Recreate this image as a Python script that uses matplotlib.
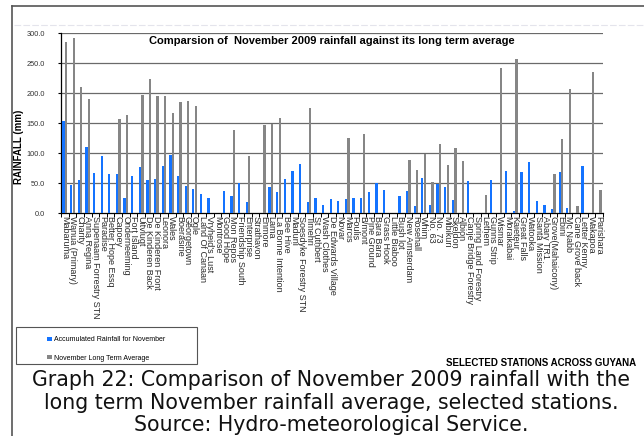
import numpy as np
import matplotlib.pyplot as plt
from matplotlib.lines import Line2D
from matplotlib.patches import Rectangle

# Stations (left to right)
stations = ["Mabaruma", "Wanua (Primary)", "Charity", "Anna Regina", "Supenaam Forrestry STN",
            "Paradise", "Better Hope Essq", "Capoey", "Onderneeming", "Fort Island", "Uitvlugt",
            "De Kinderen Back", "De Kinderen Front", "Leonora", "Wales", "Boerasirie", "Georgetown",
            "Ogle", "Land Of Canaan", "Vryheid's Lust", "Montrose", "Good Hope", "Mon Repos",
            "Friendship South", "Enterprise", "Strathavon", "Enmore", "Lama", "La Bonne Intention",
            "Bee Hive", "Maduni", "Soesdyke Forestry STN", "Timehri", "St Cuthbert", "Wash Clothes",
            "De Edwards Village", "Novar", "Marcis", "Foulis", "B/mont", "Pine Ground", "Bara Bara",
            "Grass Hook", "Little Biaboo", "Bush lot", "New Amsterdam", "Rosehall", "Whim", "No. 63",
            "No. 73", "Mibikuri", "Skeldon", "Albion", "Canje Bridge Forestry", "Spring Land Forestry",
            "Lethem", "Gunns Strip", "Wismar", "Moraikabai", "Kaieteur", "Great Falls", "Watooka",
            "Santa Mission", "Abary TR1", "Grove(Mahaicony)", "Ebini", "Mc Nabb", "Cane Grove back",
            "Letter Kenny", "Wakapoa", "Parishara"]

# Accumulated rainfall for November 2009 (mm)
nov_2009 = [153.6, 47.5, 55.3, 111.0, 67.0, 95.0, 64.8, 64.8, 25.7, 62.0, 76.5,
            55.3, 57.0, 79.3, 96.7, 61.0, 45.3, 40.8, 32.4, 25.1, 0.0, 36.3, 28.5,
            50.3, 18.4, 0.0, 0.0, 43.6, 35.8, 57.5, 69.8, 82.1, 19.0, 25.7, 14.0,
            22.9, 20.7, 22.9, 25.1, 25.7, 35.8, 50.3, 39.1, 0.0, 28.5, 36.3, 12.3,
            58.1, 12.9, 48.6, 43.0, 21.8, 0.0, 53.1, 0.0, 0.0, 54.8, 0.0, 70.4, 2.8,
            68.2, 85.0, 19.6, 14.0, 7.3, 68.2, 8.4, 0.0, 78.2, 0.0, 0.0]

# November long term average (mm)
nov_avg = [285.0, 292.8, 210.6, 190.0, 0.0, 0.0, 0.0, 157.5, 164.3, 0.0, 196.7,
           223.0, 195.0, 195.0, 167.0, 185.5, 187.0, 178.0, 0.0, 0.0, 0.0, 0.0, 139.0,
           0.0, 95.5, 0.0, 147.5, 149.0, 159.0, 0.0, 0.0, 0.0, 175.0, 0.0, 0.0,
           0.0, 0.0, 124.6, 0.0, 131.3, 0.0, 0.0, 0.0, 0.0, 0.0, 88.8, 71.0,
           97.8, 52.5, 114.5, 80.4, 107.8, 86.6, 0.0, 0.0, 30.7, 0.0, 243.0, 0.0, 258.0,
           0.0, 0.0, 0.0, 0.0, 64.8, 123.5, 206.7, 12.3, 0.0, 235.0, 38.5]

yticks = [0, 50, 100, 150, 200, 250, 300]

blue = '#1473ff'
grey = '#868686'

fig = plt.figure(figsize=(6.44, 4.36), dpi=100)
ax = fig.add_axes([61/644, 1 - 213/436, 542/644, 179.6/436])

x = np.arange(len(stations))
b1 = ax.bar(x - 0.17, nov_2009, width=0.3, color=blue, zorder=3,
            label='Accumulated Rainfall for November')
b2 = ax.bar(x + 0.16, nov_avg, width=0.3, color=grey, zorder=3,
            label='November Long Term Average')

ax.set_xlim(-0.5, len(stations) - 0.5)
ax.set_ylim(0, 300)
ax.set_yticks(yticks)
ax.set_yticklabels([f'{v:.1f}' for v in yticks], fontsize=5.3,
                   family='Liberation Sans', color='#333333')
ax.tick_params(axis='y', length=2.5, pad=9, width=0.8)
for v in yticks[1:]:
    ax.axhline(v, color='#6a6a6a', lw=0.9, zorder=1)

ax.set_xticks(x)
ax.set_xticklabels(stations, rotation=270, fontsize=6.5, family='Liberation Sans',
                   color='#2a2a2a', va='top', ha='center')
ax.tick_params(axis='x', length=0, pad=2)
ax.set_xticks(np.arange(len(stations) + 1) - 0.5, minor=True)
ax.tick_params(axis='x', which='minor', length=3, width=0.7, direction='out')

for s in ['top', 'right']:
    ax.spines[s].set_visible(False)
ax.spines['left'].set_linewidth(0.9)
ax.spines['bottom'].set_linewidth(0.9)

ax.set_ylabel('RAINFALL (mm)', fontsize=7, fontweight='bold', family='Liberation Sans')
ax.yaxis.set_label_coords(-0.068, 0.37)

ax.text(0.5, 0.96, 'Comparsion of  November 2009 rainfall against its long term average',
        transform=ax.transAxes, ha='center', va='center', fontsize=8, fontweight='bold',
        family='Liberation Sans')

# legend
leg = fig.legend(handles=[b1, b2], loc='center left', bbox_to_anchor=(44/644, 1 - 349/436),
                 frameon=False, prop={'family': 'Liberation Sans', 'size': 5},
                 handlelength=0.6, handleheight=0.6, handletextpad=0.4, labelspacing=1.6,
                 borderpad=0)
fig.patches.append(Rectangle((16/644, 1 - 364/436), 181/644, 37/436, transform=fig.transFigure,
                             fill=False, edgecolor='#555555', lw=0.8))

fig.text(636/644, 1 - 363/436, 'SELECTED STATIONS ACROSS GUYANA', ha='right', va='center',
         fontsize=7, fontweight='bold', family='Liberation Sans')

# caption
cap_lines = ['Graph 22: Comparison of November 2009 rainfall with the',
             'long term November rainfall average, selected stations.',
             'Source: Hydro-meteorological Service.']
for i, line in enumerate(cap_lines):
    fig.text(331/644, 1 - (380 + 22.5 * i)/436, line, ha='center', va='center',
             fontsize=14.8, family='DejaVu Sans', color='#111111')

# outer frame
fig.add_artist(Line2D([12/644, 12/644], [0, 1 - 6/436], transform=fig.transFigure,
                      color='#555555', lw=1.2))
fig.add_artist(Line2D([12/644, 1], [1 - 6/436, 1 - 6/436], transform=fig.transFigure,
                      color='#555555', lw=1.2))
fig.add_artist(Line2D([14/644, 1], [1 - 25/436, 1 - 25/436], transform=fig.transFigure,
                      color='#e4e4ec', lw=0.8, ls=(0, (6, 2))))

fig.savefig('out.png', dpi=100)
